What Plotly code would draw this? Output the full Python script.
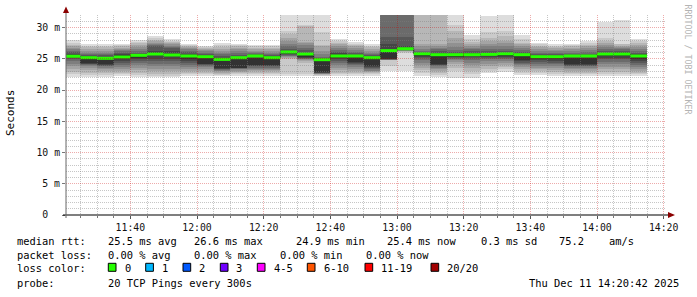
import plotly.graph_objects as go
import pandas as pd

# ---------------- data ----------------
bar_start = pd.date_range("2025-12-11 11:20:00", periods=35, freq="5min")
range_start = "2025-12-11 11:20:42"
range_end = "2025-12-11 14:20:42"

# 20 sorted ping RTTs (ms) per 5-minute step
pings_ms = [
    [22.1, 22.5, 22.9, 23.3, 23.8, 24.2, 24.6, 24.9, 25.1, 25.3, 25.6, 25.8, 26.1, 26.3, 26.5, 26.7, 27.0, 27.2, 27.5, 28.0],
    [22.1, 22.4, 22.8, 23.2, 23.5, 23.8, 24.0, 24.1, 24.2, 24.3, 25.1, 25.4, 25.6, 25.8, 26.0, 26.3, 26.6, 26.9, 27.1, 27.4],
    [22.1, 22.4, 22.7, 23.0, 23.3, 23.6, 23.8, 23.9, 24.0, 24.1, 25.0, 25.3, 25.6, 25.8, 26.0, 26.3, 26.6, 26.9, 27.1, 27.4],
    [22.2, 22.5, 22.8, 23.1, 23.4, 23.7, 24.0, 24.3, 24.6, 24.9, 25.6, 25.8, 26.0, 26.2, 26.4, 26.6, 26.8, 27.0, 27.15, 27.3],
    [22.1, 22.4, 22.8, 23.2, 23.6, 24.0, 24.3, 24.6, 24.9, 25.2, 25.6, 25.8, 26.0, 26.3, 26.6, 26.9, 27.2, 27.5, 27.7, 28.0],
    [22.1, 22.3, 22.6, 23.0, 23.4, 23.8, 24.2, 24.6, 25.0, 25.7, 26.1, 26.3, 27.0, 27.2, 27.4, 27.6, 27.8, 28.0, 28.3, 28.7],
    [22.1, 22.3, 22.6, 23.0, 23.4, 23.8, 24.2, 24.6, 25.0, 25.4, 25.8, 26.2, 26.7, 26.9, 27.1, 27.3, 27.5, 27.7, 27.9, 28.2],
    [22.2, 22.5, 22.8, 23.1, 23.4, 23.7, 24.0, 24.3, 24.6, 24.9, 25.6, 25.8, 26.1, 26.3, 26.5, 26.7, 26.9, 27.0, 27.15, 27.3],
    [22.2, 22.5, 22.8, 23.1, 23.4, 23.7, 23.9, 24.0, 24.1, 24.2, 25.3, 25.6, 25.8, 26.0, 26.2, 26.4, 26.6, 26.8, 26.95, 27.1],
    [22.2, 22.4, 22.6, 22.8, 23.0, 23.1, 23.2, 23.3, 23.4, 23.5, 24.8, 25.1, 25.4, 25.7, 26.0, 26.3, 26.6, 26.9, 27.2, 27.6],
    [22.2, 22.5, 22.7, 22.9, 23.1, 23.3, 23.4, 23.5, 23.55, 23.6, 24.9, 25.3, 25.6, 25.9, 26.2, 26.5, 26.8, 27.0, 27.2, 27.4],
    [22.2, 22.5, 22.8, 23.0, 23.2, 23.4, 23.6, 23.8, 23.9, 24.0, 25.2, 25.5, 25.7, 25.9, 26.1, 26.3, 26.6, 26.8, 27.0, 27.2],
    [22.2, 22.5, 22.8, 23.0, 23.2, 23.4, 23.6, 23.8, 23.9, 24.0, 25.0, 25.4, 25.6, 25.8, 26.0, 26.3, 26.6, 26.8, 27.0, 27.2],
    [22.2, 22.5, 24.9, 25.1, 25.3, 25.4, 25.5, 25.6, 25.7, 25.8, 26.1, 26.2, 26.6, 27.0, 27.4, 27.8, 28.4, 28.9, 29.5, 33.0],
    [22.2, 22.6, 24.3, 24.6, 24.8, 24.9, 25.0, 25.1, 25.2, 25.3, 25.6, 26.0, 26.4, 26.8, 27.2, 27.5, 27.7, 30.2, 30.4, 33.0],
    [22.2, 22.3, 22.4, 22.5, 22.55, 22.6, 22.7, 22.75, 22.8, 22.9, 24.6, 24.85, 25.0, 25.3, 25.8, 26.3, 27.0, 27.2, 29.3, 33.0],
    [22.2, 22.5, 22.8, 23.2, 23.6, 24.0, 24.4, 24.7, 25.0, 25.2, 25.6, 25.9, 26.1, 26.4, 26.7, 27.0, 27.3, 27.6, 27.9, 28.2],
    [22.2, 22.5, 22.8, 23.1, 23.4, 23.7, 24.0, 24.2, 24.4, 24.5, 25.3, 25.6, 25.9, 26.1, 26.4, 26.7, 27.0, 27.2, 27.4, 27.7],
    [22.2, 22.5, 22.8, 22.9, 23.0, 23.1, 23.3, 23.5, 23.7, 23.9, 25.0, 25.3, 25.6, 25.8, 26.0, 26.3, 26.6, 26.9, 27.1, 27.4],
    [23.0, 23.8, 24.8, 24.82, 24.84, 24.86, 24.88, 24.9, 24.92, 24.95, 26.4, 27.4, 28.5, 33.0, 34.0, 35.0, 36.0, 38.0, 40.0, 45.0],
    [23.0, 25.9, 26.1, 26.2, 26.25, 26.3, 26.35, 26.4, 26.45, 26.5, 26.7, 27.0, 28.5, 33.0, 34.0, 35.0, 36.0, 38.0, 40.0, 45.0],
    [22.2, 22.7, 23.2, 23.6, 24.0, 24.4, 24.8, 25.1, 25.3, 25.5, 25.8, 25.95, 26.1, 26.3, 26.6, 27.0, 27.4, 33.0, 34.0, 35.0],
    [22.1, 22.4, 22.7, 23.0, 23.3, 23.6, 23.8, 23.95, 24.0, 24.1, 25.6, 25.9, 26.2, 26.5, 26.8, 27.1, 27.4, 33.0, 34.0, 35.0],
    [22.0, 23.0, 23.6, 24.1, 24.5, 24.8, 25.0, 25.2, 25.3, 25.4, 25.6, 25.8, 26.1, 26.4, 26.9, 27.5, 28.4, 29.5, 30.4, 33.0],
    [22.0, 22.6, 23.0, 23.5, 24.0, 24.4, 24.8, 25.1, 25.3, 25.45, 25.65, 25.9, 26.2, 26.5, 26.8, 27.1, 27.4, 27.7, 28.2, 28.8],
    [22.7, 23.0, 23.4, 23.8, 24.2, 24.6, 24.9, 25.1, 25.3, 25.45, 25.6, 25.9, 26.2, 26.6, 27.0, 27.4, 27.8, 28.3, 29.3, 31.9],
    [22.9, 23.3, 23.7, 24.0, 24.3, 24.6, 24.9, 25.1, 25.3, 25.5, 25.8, 26.0, 26.3, 26.6, 27.0, 27.5, 27.9, 28.7, 29.5, 33.0],
    [22.4, 22.8, 23.1, 23.4, 23.7, 24.0, 24.2, 24.4, 24.6, 24.8, 25.5, 25.8, 26.1, 26.4, 26.7, 27.0, 27.3, 27.6, 28.1, 28.8],
    [22.4, 22.7, 23.0, 23.3, 23.6, 23.9, 24.2, 24.5, 24.8, 25.0, 25.4, 25.6, 25.8, 26.0, 26.3, 26.6, 26.9, 27.1, 27.3, 27.6],
    [22.3, 22.6, 22.9, 23.2, 23.5, 23.8, 24.1, 24.4, 24.7, 25.0, 25.4, 25.6, 25.8, 26.0, 26.2, 26.45, 26.7, 26.9, 27.05, 27.3],
    [22.2, 22.5, 22.8, 23.1, 23.4, 23.6, 23.8, 23.9, 24.0, 24.1, 25.2, 25.5, 25.8, 26.0, 26.3, 26.6, 26.8, 27.0, 27.2, 27.4],
    [22.2, 22.5, 22.8, 23.1, 23.4, 23.6, 23.8, 23.9, 24.0, 24.1, 25.2, 25.5, 25.8, 26.1, 26.4, 26.7, 27.0, 27.2, 27.5, 27.9],
    [22.2, 22.5, 22.9, 23.3, 23.7, 24.1, 24.5, 24.9, 25.2, 25.5, 25.8, 26.0, 26.3, 26.6, 26.9, 27.2, 27.5, 27.8, 28.3, 30.9],
    [22.2, 22.5, 22.9, 23.3, 23.7, 24.1, 24.5, 24.9, 25.2, 25.5, 25.9, 26.1, 26.3, 26.5, 26.7, 26.9, 27.1, 27.3, 27.4, 31.2],
    [22.2, 22.5, 22.8, 23.1, 23.4, 23.7, 24.0, 24.3, 24.6, 24.9, 25.4, 25.7, 26.0, 26.3, 26.6, 26.9, 27.2, 27.5, 27.8, 28.2],
]

median_ms = [25.4, 25.17, 25.07, 25.28, 25.55, 25.76, 25.6, 25.44, 25.33, 24.9,
             25.17, 25.44, 25.17, 26.08, 25.76, 24.85, 25.44, 25.44, 25.17, 26.3,
             26.6, 25.8, 25.65, 25.65, 25.65, 25.7, 25.8, 25.65, 25.33, 25.33,
             25.44, 25.44, 25.76, 25.76, 25.44]

y_tickvals = [0, 5, 10, 15, 20, 25, 30]
y_ticktext = ["0\u00a0\u00a0", "5 m", "10 m", "15 m", "20 m", "25 m", "30 m"]

rtt_stats = [("25.5", "avg"), ("26.6", "max"), ("24.9", "min"), ("25.4", "now")]
rtt_sd = "0.3"
rtt_ams = "75.2"
loss_stats = [("0.00", "avg"), ("0.00", "max"), ("0.00", "min"), ("0.00", "now")]
loss_labels = ["0", "1", "2", "3", "4-5", "6-10", "11-19", "20/20"]
loss_colors = ["#26ff00", "#00b8ff", "#0059ff", "#7000ff", "#ff00ff", "#ff5500", "#ff0000", "#a10000"]
probe_text = "20 TCP Pings every 300s"
stamp_text = "Thu Dec 11 14:20:42 2025"

# ---------------- figure ----------------
W, H = 697, 297
L, R, T, B = 66, 31, 15, 82
PW, PH = W - L - R, H - T - B
FONT = "DejaVu Sans Mono"

def px(x):
    return (x - L) / PW

def py(y):
    return (H - B - y) / PH

step = pd.Timedelta(minutes=5)
centers = [t + step / 2 for t in bar_start]
step_ms = 300000

fig = go.Figure()

n = len(pings_ms[0])
half = n // 2
for k in range(1, half + 1):
    g = int(190 / half * (half - k)) + 50
    col = "rgb(%d,%d,%d)" % (g, g, g)
    lo = [row[k - 1] for row in pings_ms]
    hi = [row[n - k] for row in pings_ms]
    fig.add_trace(go.Bar(
        x=centers, y=[h - l for h, l in zip(hi, lo)], base=lo, width=step_ms,
        marker=dict(color=col, line=dict(width=0)), showlegend=False,
        hoverinfo="skip"))

# median step line (dark connectors)
fig.add_trace(go.Scatter(
    x=list(bar_start) + [bar_start[-1] + step],
    y=median_ms + [median_ms[-1]], mode="lines",
    line=dict(color="#202020", width=1, shape="hv"),
    showlegend=False, hoverinfo="skip"))

# median band per step (loss colour 0)
seg_x, seg_y = [], []
for t, m in zip(bar_start, median_ms):
    seg_x += [t, t + step, None]
    seg_y += [m, m, None]
fig.add_trace(go.Scatter(
    x=seg_x, y=seg_y, mode="lines", connectgaps=False,
    line=dict(color=loss_colors[0], width=3),
    showlegend=False, hoverinfo="skip"))

# empty trace to materialise the grid subplot drawn above the data
fig.add_trace(go.Scatter(x=[range_start], y=[-10], xaxis="x2", yaxis="y2",
                         mode="markers", marker=dict(opacity=0),
                         showlegend=False, hoverinfo="skip"))

grid_minor = "rgba(128,128,128,0.45)"
grid_major = "rgba(200,0,0,0.33)"

common_x = dict(type="date", range=[range_start, range_end], domain=[0, 1],
                tickmode="linear", tick0="2025-12-11 11:00:00", dtick=1200000,
                zeroline=False, showline=False)
common_y = dict(range=[0, 32], domain=[0, 1], zeroline=False, showline=False)

fig.update_layout(
    width=W, height=H, margin=dict(l=L, r=R, t=T, b=B),
    paper_bgcolor="white", plot_bgcolor="rgba(0,0,0,0)",
    barmode="overlay", bargap=0, showlegend=False,
    xaxis=dict(**common_x, showgrid=False, tickformat="%H:%M",
               ticks="outside", ticklen=3, tickcolor="#555",
               tickfont=dict(family=FONT, size=9.8, color="#111"),
               minor=dict(tick0="2025-12-11 11:00:00", dtick=300000,
                          ticks="outside", ticklen=2, tickcolor="#777",
                          showgrid=False)),
    yaxis=dict(**common_y, showgrid=False, tickmode="array",
               tickvals=y_tickvals, ticktext=y_ticktext,
               ticks="outside", ticklen=3, tickcolor="#777",
               tickfont=dict(family=FONT, size=9.8, color="#111")),
    xaxis2=dict(**common_x, anchor="y2", showticklabels=False, ticks="",
                showgrid=True, gridcolor=grid_major, griddash="1px,1px", gridwidth=1,
                minor=dict(tick0="2025-12-11 11:00:00", dtick=300000, showgrid=True,
                           gridcolor=grid_minor, griddash="1px,1px", gridwidth=1)),
    yaxis2=dict(**common_y, anchor="x2", showticklabels=False, ticks="",
                tickmode="linear", tick0=0, dtick=5,
                showgrid=True, gridcolor=grid_major, griddash="1px,1px", gridwidth=1,
                minor=dict(tick0=0, dtick=1, showgrid=True,
                           gridcolor=grid_minor, griddash="1px,1px", gridwidth=1)),
)

shapes = []
# x axis line + arrow
shapes.append(dict(type="line", xref="paper", yref="paper", x0=px(63), x1=px(670),
                   y0=0, y1=0, line=dict(color="#000", width=1.2), layer="above"))
shapes.append(dict(type="path", xref="paper", yref="paper",
                   path="M %f %f L %f %f L %f %f Z" % (px(668), py(212), px(675), py(215), px(668), py(218)),
                   fillcolor="#8b0000", line=dict(width=0), layer="above"))
# y axis line + arrow
shapes.append(dict(type="line", xref="paper", yref="paper", x0=0, x1=0,
                   y0=py(218), y1=py(12), line=dict(color="#666", width=1), layer="above"))
shapes.append(dict(type="path", xref="paper", yref="paper",
                   path="M %f %f L %f %f L %f %f Z" % (px(63), py(13), px(66), py(6.5), px(69), py(13)),
                   fillcolor="#8b0000", line=dict(width=0), layer="above"))

ann = []

def text(x, y, s, anchor="left", size=10.4, color="#000", angle=0):
    ann.append(dict(xref="paper", yref="paper", x=px(x), y=py(y), text=s,
                    showarrow=False, xanchor=anchor, yanchor="middle",
                    textangle=angle, borderpad=0,
                    font=dict(family=FONT, size=size, color=color)))

y1, y2, y3, y4 = 240.5, 255.3, 267.5, 283.0
text(16, y1, "median rtt:")
for (v, lab), x in zip(rtt_stats, [107.3, 192.5, 295.0, 386.0]):
    text(x, y1, "%s ms %s" % (v, lab))
text(479.5, y1, "%s ms sd" % rtt_sd)
text(558.3, y1, rtt_ams)
text(607.7, y1, "am/s")

text(16, y2, "packet loss:")
for (v, lab), x in zip(loss_stats, [107.3, 193.3, 279.3, 365.0]):
    text(x, y2, "%s %% %s" % (v, lab))

text(16, y3, "loss color:")
box_x = [108.3, 145.7, 183.0, 220.3, 257.3, 307.3, 365.0, 431.0]
for lab, col, bx in zip(loss_labels, loss_colors, box_x):
    shapes.append(dict(type="rect", xref="paper", yref="paper",
                       x0=px(bx), x1=px(bx + 7.7), y0=py(271.3), y1=py(263.3),
                       fillcolor=col, line=dict(color="#000", width=1)))
    text(bx + 15.2, y3, lab)

text(16, y4, "probe:")
text(107.3, y4, probe_text)
text(680, y4, stamp_text, anchor="right")

text(10.5, 113.5, "Seconds", size=11, angle=-90)
text(687.5, 59, "RRDTOOL / TOBI OETIKER", size=8.3, color="#b4b4b4", angle=90)

for a in ann:
    if a["textangle"] != 0:
        a["xanchor"] = "center"

fig.update_layout(shapes=shapes, annotations=ann)
fig.write_html("out.html")
